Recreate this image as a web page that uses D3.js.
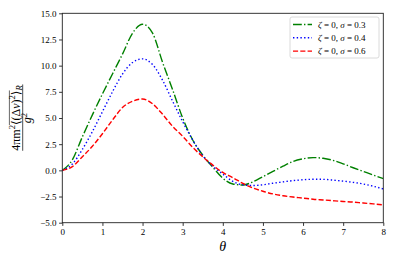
<!DOCTYPE html>
<html>
<head>
<meta charset="utf-8">
<script src="https://cdn.jsdelivr.net/npm/d3@7"></script>
<style>
    body { margin: 0; background: #fff; }
    svg { display: block; }
    text { font-family: "Liberation Serif", "DejaVu Serif", serif; fill: #000; }
</style>
</head>
<body>
<div id="chart"></div>
<script>
// theta samples (every 0.25) and the three curves
const theta = d3.range(0, 8.001, 0.25);
const sigma03 = [0, 1.0, 3.2, 5.3, 7.3, 9.2, 11.1, 13.1, 13.95, 13.1, 10.3, 7.7, 5.0, 2.9, 1.45, 0.3,
    -0.75, -1.3, -1.4, -1.1, -0.6, -0.1, 0.4, 0.85, 1.1, 1.22, 1.15, 0.95, 0.62, 0.25, -0.1, -0.45, -0.78];
const sigma04 = [0, 0.6, 2.0, 3.7, 5.6, 7.5, 9.2, 10.3, 10.65, 10.1, 8.6, 6.6, 4.65, 2.9, 1.4, 0.4,
    -0.35, -1.05, -1.38, -1.45, -1.38, -1.23, -1.1, -0.98, -0.9, -0.85, -0.86, -0.93, -1.03, -1.15, -1.3, -1.52, -1.78];
const sigma06 = [0, 0.35, 1.3, 2.3, 3.5, 4.8, 6.0, 6.6, 6.82, 6.35, 5.35, 4.2, 3.25, 2.2, 1.3, 0.5,
    -0.2, -0.7, -1.25, -1.68, -2.0, -2.25, -2.42, -2.55, -2.65, -2.76, -2.83, -2.9, -2.97, -3.03, -3.12, -3.2, -3.3];
const seriesLabels = ['0.3', '0.4', '0.6'];
const xTicks = d3.range(0, 9);
const yTicks = d3.range(-5, 15.01, 2.5);

const WIDTH = 396, HEIGHT = 264;
const LW = 1.4; // line width in px

const series = [
    { values: sigma03, color: '#008000', dash: [8.8, 2.2, 1.4, 2.2], label: seriesLabels[0] },
    { values: sigma04, color: '#0000ff', dash: [1.4, 2.3], label: seriesLabels[1] },
    { values: sigma06, color: '#ff0000', dash: [5.1, 2.2], label: seriesLabels[2] }
];

const svg = d3.select('#chart').append('svg')
    .attr('width', WIDTH)
    .attr('height', HEIGHT);

const xScale = d3.scaleLinear().domain([0, 8]).range([62.3, 383.3]);
const yScale = d3.scaleLinear().domain([-5, 15]).range([222.7, 13.3]);

svg.append('clipPath').attr('id', 'plot-clip')
  .append('rect')
    .attr('x', xScale(0)).attr('y', yScale(15))
    .attr('width', xScale(8) - xScale(0))
    .attr('height', yScale(-5) - yScale(15));

// Axes
const xAxis = d3.axisBottom(xScale)
    .tickValues(xTicks)
    .tickFormat(d3.format('d'))
    .tickSize(3.2)
    .tickSizeOuter(0)
    .tickPadding(2.5);
svg.append('g')
    .attr('class', 'axis')
    .attr('transform', `translate(0,${yScale(-5)})`)
    .call(xAxis);

const yAxis = d3.axisLeft(yScale)
    .tickValues(yTicks)
    .tickFormat(d3.format('.1f'))
    .tickSize(3.2)
    .tickSizeOuter(0)
    .tickPadding(2.5);
svg.append('g')
    .attr('class', 'axis')
    .attr('transform', `translate(${xScale(0)},0)`)
    .call(yAxis);

svg.selectAll('.axis .domain').remove();
svg.selectAll('.axis line').attr('stroke', '#000').attr('stroke-width', 0.8);
svg.selectAll('.axis text')
    .attr('font-size', 9)
    .style('font-family', '"Liberation Serif", serif');

// Curves
const line = d3.line()
    .x((d, i) => xScale(theta[i]))
    .y(d => yScale(d))
    .curve(d3.curveMonotoneX);

svg.append('g')
    .attr('clip-path', 'url(#plot-clip)')
  .selectAll('path')
    .data(series)
    .enter()
    .append('path')
        .attr('d', d => line(d.values))
        .attr('fill', 'none')
        .attr('stroke', d => d.color)
        .attr('stroke-width', LW)
        .attr('stroke-dasharray', d => d.dash.join(' '));

// Frame
svg.append('rect')
    .attr('x', xScale(0)).attr('y', yScale(15))
    .attr('width', xScale(8) - xScale(0))
    .attr('height', yScale(-5) - yScale(15))
    .attr('fill', 'none')
    .attr('stroke', '#222')
    .attr('stroke-width', 0.9);

// x label
svg.append('text')
    .attr('x', (xScale(0) + xScale(8)) / 2)
    .attr('y', 251)
    .attr('text-anchor', 'middle')
    .attr('font-size', 14)
    .attr('font-style', 'italic')
    .text('θ');

// y label: rotated fraction
const FS = 12, SUP = 8.5;
const yLab = svg.append('g')
    .attr('transform', `translate(22.7, ${(yScale(15) + yScale(-5)) / 2}) rotate(-90)`);
const num = yLab.append('text')
    .attr('x', 0)
    .attr('y', -2.8)
    .attr('text-anchor', 'middle')
    .attr('font-size', FS);
num.append('tspan').text('4πm');
num.append('tspan').attr('font-size', SUP).attr('dy', -4.5).text('2');
num.append('tspan').attr('dy', 4.5).text('⟨(Δ');
num.append('tspan').attr('font-style', 'italic').text('v');
num.append('tspan').text(')');
num.append('tspan').attr('font-size', SUP).attr('dy', -4.5).text('2');
num.append('tspan').attr('dy', 4.5).text('⟩');
num.append('tspan').attr('font-size', SUP).attr('dy', 2.2).attr('font-style', 'italic').text('R');

// overline from ⟨ to ⟩, measured from the rendered glyphs
const numNode = num.node();
const full = numNode.textContent;
const s = numNode.getExtentOfChar(full.indexOf('⟨'));
const e = numNode.getExtentOfChar(full.indexOf('⟩'));
yLab.append('line')
    .attr('x1', s.x).attr('x2', e.x + e.width)
    .attr('y1', s.y + 0.5).attr('y2', s.y + 0.5)
    .attr('stroke', '#000').attr('stroke-width', 0.6);

const nb = numNode.getBBox();
yLab.append('line')
    .attr('x1', nb.x).attr('x2', nb.x + nb.width)
    .attr('y1', 0).attr('y2', 0)
    .attr('stroke', '#000').attr('stroke-width', 0.7);

const den = yLab.append('text')
    .attr('x', 0)
    .attr('y', 8.5)
    .attr('text-anchor', 'middle')
    .attr('font-size', FS);
den.append('tspan').attr('font-style', 'italic').text('g');
den.append('tspan').attr('font-size', SUP).attr('dy', -4.5).text('2');

// Legend
const legend = svg.append('g').attr('transform', 'translate(290,17)');
legend.append('rect')
    .attr('width', 89).attr('height', 41)
    .attr('rx', 2)
    .attr('fill', '#fff').attr('fill-opacity', 0.8)
    .attr('stroke', '#d0d0d0').attr('stroke-width', 0.8);
const rows = legend.selectAll('.row')
    .data(series)
    .enter()
    .append('g')
        .attr('class', 'row')
        .attr('transform', (d, i) => `translate(0,${7.5 + 13.3 * i})`);
rows.append('line')
    .attr('x1', 3).attr('x2', 22)
    .attr('stroke', d => d.color)
    .attr('stroke-width', LW)
    .attr('stroke-dasharray', d => d.dash.join(' '));
const lt = rows.append('text')
    .attr('x', 28)
    .attr('y', 3)
    .attr('font-size', 9);
lt.append('tspan').attr('font-style', 'italic').text('ζ');
lt.append('tspan').text(' = 0, ');
lt.append('tspan').attr('font-style', 'italic').text('σ');
lt.append('tspan').text(d => ` = ${d.label}`);
</script>
</body>
</html>
